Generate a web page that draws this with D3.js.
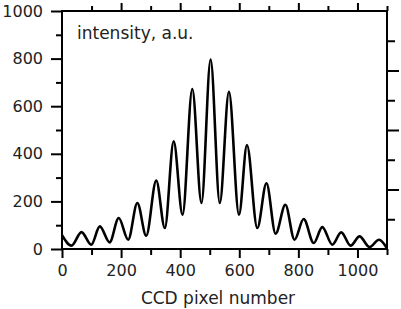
<!DOCTYPE html>
<html>
<head>
<meta charset="utf-8">
<script src="https://cdn.jsdelivr.net/npm/d3@7"></script>
<style>
  body { margin: 0; background: #fff; }
  text { font-family: "DejaVu Sans", Verdana, sans-serif; fill: #222; }
</style>
</head>
<body>
<div id="chart"></div>
<script>
// interference pattern (peaks and troughs)
const pixel = [0, 32, 66, 99, 128, 161, 192, 224, 255, 285, 319, 348, 378, 408, 441, 472, 503, 534,
               565, 599, 626, 661, 692, 723, 756, 787, 818, 852, 881, 915, 945, 977, 1007, 1041, 1073, 1100];
const intensity = [58, 14, 71, 18, 95, 28, 130, 39, 193, 56, 288, 88, 452, 144, 672, 193, 796, 193,
                   660, 144, 437, 88, 276, 64, 186, 39, 126, 25, 92, 18, 70, 14, 53, 8, 39, 3];

const xMajor = [0, 200, 400, 600, 800, 1000];
const xMinor = [100, 300, 500, 700, 900, 1100];
const yMajor = [0, 200, 400, 600, 800, 1000];
const yMinor = [100, 300, 500, 700, 900];
const rMajor = [2, 4, 6];
const rMinor = [1, 3, 5, 7];

const width = 401, height = 309;
const margin = { top: 11, right: 14, bottom: 60, left: 62 };

const svg = d3.select("#chart").append("svg")
    .attr("width", width)
    .attr("height", height);

const x = d3.scaleLinear().domain([0, 1100]).range([margin.left, width - margin.right]);
const y = d3.scaleLinear().domain([0, 1000]).range([height - margin.bottom, margin.top]);
const yR = d3.scaleLinear().domain([0, 8]).range([height - margin.bottom, margin.top]); // unlabelled right axis

function styleAxis(g) {
    g.select(".domain").remove();
    g.selectAll(".tick line").attr("stroke", "#000").attr("stroke-width", 2);
    g.selectAll(".tick text").style("font-size", "16px").attr("fill", "#222");
}

// bottom
svg.append("g")
    .attr("transform", `translate(0,${y(0)})`)
    .call(d3.axisBottom(x).tickValues(xMajor).tickSize(9).tickPadding(7).tickFormat(d3.format("d")))
    .call(styleAxis);
svg.append("g")
    .attr("transform", `translate(0,${y(0)})`)
    .call(d3.axisBottom(x).tickValues(xMinor).tickSize(6).tickFormat(""))
    .call(styleAxis);

// top
svg.append("g")
    .attr("transform", `translate(0,${y(1000)})`)
    .call(d3.axisTop(x).tickValues(xMajor.slice(1)).tickSize(8).tickFormat(""))
    .call(styleAxis);
svg.append("g")
    .attr("transform", `translate(0,${y(1000)})`)
    .call(d3.axisTop(x).tickValues(xMinor).tickSize(5).tickFormat(""))
    .call(styleAxis);

// left
svg.append("g")
    .attr("transform", `translate(${x(0)},0)`)
    .call(d3.axisLeft(y).tickValues(yMajor).tickSize(11).tickPadding(8).tickFormat(d3.format("d")))
    .call(styleAxis);
svg.append("g")
    .attr("transform", `translate(${x(0)},0)`)
    .call(d3.axisLeft(y).tickValues(yMinor).tickSize(6).tickFormat(""))
    .call(styleAxis);

// right
svg.append("g")
    .attr("transform", `translate(${x(1100)},0)`)
    .call(d3.axisRight(yR).tickValues(rMajor).tickSize(12).tickFormat(""))
    .call(styleAxis);
svg.append("g")
    .attr("transform", `translate(${x(1100)},0)`)
    .call(d3.axisRight(yR).tickValues(rMinor).tickSize(8).tickFormat(""))
    .call(styleAxis);

// frame
svg.append("rect")
    .attr("x", x(0))
    .attr("y", y(1000))
    .attr("width", x(1100) - x(0))
    .attr("height", y(0) - y(1000))
    .attr("fill", "none")
    .attr("stroke", "#000")
    .attr("stroke-width", 2);

const line = d3.line()
    .x((d, i) => x(pixel[i]))
    .y(d => y(d))
    .curve(d3.curveMonotoneX);

svg.append("path")
    .datum(intensity)
    .attr("fill", "none")
    .attr("stroke", "#000")
    .attr("stroke-width", 2.6)
    .attr("stroke-linejoin", "round")
    .attr("d", line);

svg.append("text")
    .attr("x", 77)
    .attr("y", 39)
    .style("font-size", "17px")
    .text("intensity, a.u.");

svg.append("text")
    .attr("x", 218)
    .attr("y", 304)
    .attr("text-anchor", "middle")
    .style("font-size", "17px")
    .text("CCD pixel number");
</script>
</body>
</html>
